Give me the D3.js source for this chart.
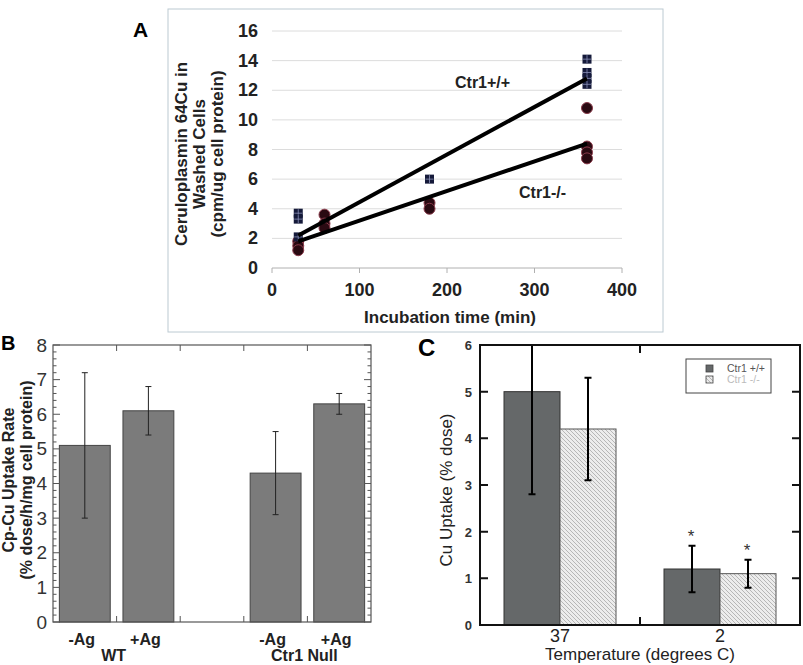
<!DOCTYPE html>
<html>
<head>
<meta charset="utf-8">
<script src="https://cdn.jsdelivr.net/npm/d3@7"></script>
<style>
  body { margin: 0; background: #fff; }
  svg { display: block; font-family: "Liberation Sans", Arial, sans-serif; }
</style>
</head>
<body>
<svg id="fig" width="803" height="665"></svg>
<script>
// ---- panel A data ----
const aTicksX = [0, 100, 200, 300, 400]
const aTicksY = [0, 2, 4, 6, 8, 10, 12, 14, 16]
const wtTime = [30, 30, 30, 360, 360, 360, 360, 180]
const wtValue = [3.7, 3.3, 2.1, 14.1, 13.2, 12.8, 12.4, 6.0]
const koTime = [30, 30, 30, 60, 60, 60, 180, 180, 360, 360, 360, 360]
const koValue = [1.8, 1.5, 1.2, 3.6, 3.0, 2.7, 4.4, 4.0, 10.8, 8.2, 7.8, 7.4]
const fitTime = [30, 360]
const wtFit = [2.2, 12.8]
const koFit = [1.8, 8.4]

// ---- panel B data ----
const bLabels = ['-Ag', '+Ag', '-Ag', '+Ag']
const bGroups = ['WT', 'Ctr1 Null']
const bPos = [0.5, 1.5, 3.5, 4.5]
const bValue = [5.1, 6.1, 4.3, 6.3]
const bErr = [2.1, 0.7, 1.2, 0.3]

// ---- panel C data ----
const cGroups = ['37', '2']
const cSeries = ['Ctr1 +/+', 'Ctr1 -/-']
const cWt = [5.0, 1.2]
const cWtErr = [2.2, 0.5]
const cKo = [4.2, 1.1]
const cKoErr = [1.1, 0.3]
const cStar = [false, true]   // significance marks per temperature group

const svg = d3.select('#fig')

const defs = svg.append('defs')
const hatch = defs.append('pattern')
    .attr('id', 'hatch').attr('patternUnits', 'userSpaceOnUse')
    .attr('width', 4).attr('height', 4)
hatch.append('rect').attr('width', 4).attr('height', 4).attr('fill', '#ececec')
hatch.append('path').attr('d', 'M-1,-1 L5,5 M-1,3 L1,5 M3,-1 L5,1')
    .attr('stroke', '#a8a8a8').attr('stroke-width', 0.8)

// ================= Panel A =================
function panelA(){
    const x = d3.scaleLinear().domain([0, 400]).range([272, 622])
    const y = d3.scaleLinear().domain([0, 16]).range([268, 31])
    const g = svg.append('g')

    g.append('rect').attr('x', 168).attr('y', 9).attr('width', 495).attr('height', 323)
        .attr('fill', 'none').attr('stroke', '#bccad2').attr('stroke-width', 1)

    g.append('text').attr('x', 133).attr('y', 37).text('A')
        .attr('font-size', 21).attr('font-weight', 'bold')

    g.selectAll('.grid').data(aTicksY).enter().append('line')
        .attr('x1', x(0)).attr('x2', x(400))
        .attr('y1', d => y(d)).attr('y2', d => y(d))
        .attr('stroke', d => d === 0 ? '#b0b0b0' : '#dcdcdc').attr('stroke-width', 1)

    g.selectAll('.xt').data(aTicksX).enter().append('line')
        .attr('x1', d => x(d)).attr('x2', d => x(d))
        .attr('y1', y(0)).attr('y2', y(0) + 5)
        .attr('stroke', '#b0b0b0')

    g.selectAll('.yl').data(aTicksY).enter().append('text')
        .attr('x', 258).attr('y', d => y(d) + 6)
        .attr('text-anchor', 'end').attr('font-size', 18).attr('font-weight', 'bold')
        .attr('fill', '#222').text(d => d)

    g.selectAll('.xl').data(aTicksX).enter().append('text')
        .attr('x', d => x(d)).attr('y', 296)
        .attr('text-anchor', 'middle').attr('font-size', 18).attr('font-weight', 'bold')
        .attr('fill', '#222').text(d => d)

    g.append('text').attr('x', 450).attr('y', 323).attr('text-anchor', 'middle')
        .attr('font-size', 17).attr('font-weight', 'bold').attr('fill', '#222')
        .text('Incubation time (min)')

    const titles = ['Ceruloplasmin 64Cu in', 'Washed Cells', '(cpm/ug cell protein)']
    g.selectAll('.yt').data(titles).enter().append('text')
        .attr('transform', (d, i) => `translate(${187 + i * 18},154) rotate(-90)`)
        .attr('text-anchor', 'middle').attr('font-size', 17).attr('font-weight', 'bold')
        .attr('fill', '#222').text(d => d)

    // circles (Ctr1-/-)
    g.selectAll('.ko').data(koTime).enter().append('circle')
        .attr('cx', d => x(d)).attr('cy', (d, i) => y(koValue[i])).attr('r', 5.5)
        .attr('fill', '#2a0a12').attr('stroke', '#8a3a4a').attr('stroke-width', 1)

    // squares (Ctr1+/+)
    const sq = g.selectAll('.wt').data(wtTime).enter().append('g')
        .attr('transform', (d, i) => `translate(${x(d)},${y(wtValue[i])})`)
    sq.append('rect').attr('x', -4.5).attr('y', -4.5).attr('width', 9).attr('height', 9)
        .attr('fill', '#151a3a')
    sq.append('path').attr('d', 'M0,-4 V4 M-4,0 H4')
        .attr('stroke', '#8a90b8').attr('stroke-width', 0.8)

    const line = d3.line().x(d => x(d[0])).y(d => y(d[1]))
    g.append('path').datum(fitTime.map((t, i) => [t, wtFit[i]])).attr('d', line)
        .attr('stroke', '#000').attr('stroke-width', 4).attr('fill', 'none')
    g.append('path').datum(fitTime.map((t, i) => [t, koFit[i]])).attr('d', line)
        .attr('stroke', '#000').attr('stroke-width', 4).attr('fill', 'none')

    g.append('text').attr('x', 455).attr('y', 88).text('Ctr1+/+')
        .attr('font-size', 16).attr('font-weight', 'bold').attr('fill', '#222')
    g.append('text').attr('x', 519).attr('y', 198).text('Ctr1-/-')
        .attr('font-size', 16).attr('font-weight', 'bold').attr('fill', '#222')
}

// ================= Panel B =================
function panelB(){
    const x = d3.scaleLinear().domain([0, 5]).range([53, 371])
    const y = d3.scaleLinear().domain([0, 8]).range([622, 345])
    const g = svg.append('g')
    const bw = x(0.8) - x(0)

    g.selectAll('.bar').data(bValue).enter().append('rect')
        .attr('x', (d, i) => x(bPos[i]) - bw / 2).attr('width', bw)
        .attr('y', d => y(d)).attr('height', d => y(0) - y(d))
        .attr('fill', '#7b7b7b').attr('stroke', '#444').attr('stroke-width', 1)

    const err = g.selectAll('.err').data(bValue).enter().append('g')
    err.append('line')
        .attr('x1', (d, i) => x(bPos[i])).attr('x2', (d, i) => x(bPos[i]))
        .attr('y1', (d, i) => y(d - bErr[i])).attr('y2', (d, i) => y(d + bErr[i]))
        .attr('stroke', '#222').attr('stroke-width', 1)
    ;[-1, 1].forEach(s => {
        err.append('line')
            .attr('x1', (d, i) => x(bPos[i]) - 3).attr('x2', (d, i) => x(bPos[i]) + 3)
            .attr('y1', (d, i) => y(d + s * bErr[i])).attr('y2', (d, i) => y(d + s * bErr[i]))
            .attr('stroke', '#222').attr('stroke-width', 1)
    })

    g.append('rect').attr('x', x(0)).attr('y', y(8)).attr('width', x(5) - x(0)).attr('height', y(0) - y(8))
        .attr('fill', 'none').attr('stroke', '#555').attr('stroke-width', 1.2)

    const minor = d3.range(0, 8.01, 0.2)
    g.selectAll('.ym').data(minor).enter().append('path')
        .attr('d', d => {
            const len = Math.abs(d - Math.round(d)) < 0.01 ? 7 : 3.5
            return `M${x(0)},${y(d)}h${len}M${x(5)},${y(d)}h${-len}`
        })
        .attr('stroke', '#555').attr('stroke-width', 1)
    g.selectAll('.xm').data([1, 2, 3, 4]).enter().append('path')
        .attr('d', d => `M${x(d)},${y(0)}v-6M${x(d)},${y(8)}v6`)
        .attr('stroke', '#555').attr('stroke-width', 1)

    g.selectAll('.yl').data(d3.range(0, 9)).enter().append('text')
        .attr('x', 47).attr('y', d => y(d) + 6.5)
        .attr('text-anchor', 'end').attr('font-size', 19).attr('fill', '#333').text(d => d)

    g.selectAll('.xl').data(bLabels).enter().append('text')
        .attr('x', (d, i) => x(bPos[i]) - 3).attr('y', 645)
        .attr('text-anchor', 'middle').attr('font-size', 16).attr('font-weight', 'bold')
        .attr('fill', '#222').text(d => d)
    g.selectAll('.gl').data(bGroups).enter().append('text')
        .attr('x', (d, i) => x(i === 0 ? 1 : 4) - 3).attr('y', 661)
        .attr('text-anchor', 'middle').attr('font-size', 16).attr('font-weight', 'bold')
        .attr('fill', '#222').text(d => d)

    const titles = ['Cp-Cu Uptake Rate', '(% dose/h/mg cell protein)']
    g.selectAll('.yt').data(titles).enter().append('text')
        .attr('transform', (d, i) => `translate(${14 + i * 18},480) rotate(-90)`)
        .attr('text-anchor', 'middle').attr('font-size', 16).attr('font-weight', 'bold')
        .attr('fill', '#222').text(d => d)

    g.append('text').attr('x', 1).attr('y', 350).text('B')
        .attr('font-size', 20).attr('font-weight', 'bold')
}

// ================= Panel C =================
function panelC(){
    const x = d3.scaleLinear().domain([0, 2]).range([480, 800])
    const y = d3.scaleLinear().domain([0, 6]).range([625, 345])
    const g = svg.append('g')
    const bw = x(0.35) - x(0)
    const centers = cGroups.map((d, i) => i + 0.5)

    const clip = defs.append('clipPath').attr('id', 'clipC')
    clip.append('rect').attr('x', x(0)).attr('y', y(6)).attr('width', x(2) - x(0)).attr('height', y(0) - y(6))

    g.selectAll('.wt').data(cWt).enter().append('rect')
        .attr('x', (d, i) => x(centers[i]) - bw).attr('width', bw)
        .attr('y', d => y(d)).attr('height', d => y(0) - y(d))
        .attr('fill', '#656869').attr('stroke', '#333').attr('stroke-width', 1)
    g.selectAll('.ko').data(cKo).enter().append('rect')
        .attr('x', (d, i) => x(centers[i])).attr('width', bw)
        .attr('y', d => y(d)).attr('height', d => y(0) - y(d))
        .attr('fill', 'url(#hatch)').attr('stroke', '#555').attr('stroke-width', 1)

    const errs = []
    cWt.forEach((v, i) => errs.push({c: x(centers[i]) - bw / 2, v: v, e: cWtErr[i], g: i}))
    cKo.forEach((v, i) => errs.push({c: x(centers[i]) + bw / 2, v: v, e: cKoErr[i], g: i}))
    const eg = g.append('g').attr('clip-path', 'url(#clipC)')
    eg.selectAll('.el').data(errs).enter().append('path')
        .attr('d', d => `M${d.c},${y(d.v - d.e)}V${y(d.v + d.e)}` +
            `M${d.c - 3.5},${y(d.v - d.e)}h7M${d.c - 3.5},${y(d.v + d.e)}h7`)
        .attr('stroke', '#000').attr('stroke-width', 2).attr('fill', 'none')

    // asterisks above the error bars of starred groups
    g.selectAll('.st').data(errs.filter(d => cStar[d.g])).enter().append('text')
        .attr('x', d => d.c - 1).attr('y', d => y(d.v + d.e + 0.3) + 10)
        .attr('text-anchor', 'middle').attr('font-size', 17).attr('fill', '#333').text('*')

    g.append('rect').attr('x', x(0)).attr('y', y(6)).attr('width', x(2) - x(0)).attr('height', y(0) - y(6))
        .attr('fill', 'none').attr('stroke', '#111').attr('stroke-width', 2)

    g.selectAll('.yt').data(d3.range(0, 7)).enter().append('path')
        .attr('d', d => `M${x(0)},${y(d)}h8M${x(2)},${y(d)}h-8`)
        .attr('stroke', '#111').attr('stroke-width', 2)
    g.append('path').attr('d', `M${x(1)},${y(0)}v-8M${x(1)},${y(6)}v8`)
        .attr('stroke', '#111').attr('stroke-width', 2)

    g.selectAll('.yl').data(d3.range(0, 7)).enter().append('text')
        .attr('x', 472).attr('y', d => y(d) + 5)
        .attr('text-anchor', 'end').attr('font-size', 13).attr('font-weight', 'bold')
        .attr('fill', '#333').text(d => d)

    g.selectAll('.xl').data(cGroups).enter().append('text')
        .attr('x', (d, i) => x(centers[i])).attr('y', 642)
        .attr('text-anchor', 'middle').attr('font-size', 18).attr('fill', '#222').text(d => d)

    g.append('text').attr('x', 640).attr('y', 660).attr('text-anchor', 'middle')
        .attr('font-size', 17).attr('fill', '#222').text('Temperature (degrees C)')

    g.append('text').attr('transform', 'translate(452,490) rotate(-90)')
        .attr('text-anchor', 'middle').attr('font-size', 17).attr('fill', '#222')
        .text('Cu Uptake (% dose)')

    g.append('text').attr('x', 418).attr('y', 356).text('C')
        .attr('font-size', 24).attr('font-weight', 'bold')

    // legend
    const lg = g.append('g')
    lg.append('rect').attr('x', 686).attr('y', 359).attr('width', 85).attr('height', 34)
        .attr('fill', '#fff').attr('stroke', '#444').attr('stroke-width', 1)
    const fills = ['#656869', 'url(#hatch)']
    const tcol = ['#555', '#bbb']
    cSeries.forEach((s, i) => {
        lg.append('rect').attr('x', 706).attr('y', 365 + i * 11).attr('width', 7).attr('height', 7)
            .attr('fill', fills[i]).attr('stroke', '#444').attr('stroke-width', 0.8)
        lg.append('text').attr('x', 727).attr('y', 372 + i * 11).attr('font-size', 10.5)
            .attr('fill', tcol[i]).text(s)
    })
}

panelA()
panelB()
panelC()
</script>
</body>
</html>
